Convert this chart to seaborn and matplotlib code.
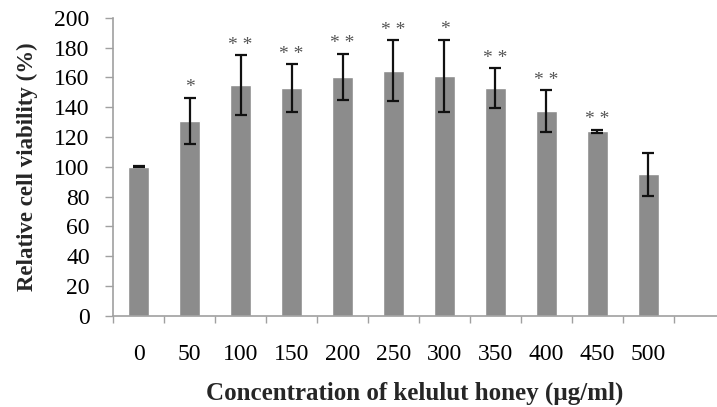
import matplotlib
matplotlib.use("Agg")
import matplotlib.pyplot as plt
import seaborn as sns
import pandas as pd
import numpy as np
from matplotlib.ticker import FixedLocator

# === Data ===
concentrations = ["0", "50", "100", "150", "200", "250", "300", "350", "400", "450", "500"]
viability = [100, 131, 155, 153, 160.5, 164.5, 161, 153, 137.5, 124, 95]
sd = [0.3, 15.5, 20, 16, 15.5, 20.5, 24.5, 13.5, 14, 1, 14.5]
stars = ["", "*", "* *", "* *", "* *", "* *", "*", "* *", "* *", "* *", ""]

df = pd.DataFrame({"conc": concentrations, "viability": viability, "sd": sd})

sns.set_theme(style="white")
plt.rcParams["font.family"] = ["Liberation Serif", "DejaVu Serif"]

fig = plt.figure(figsize=(7.17, 4.07), dpi=100)
ax = fig.add_axes([0.158, 0.224, 0.842, 0.732])

sns.barplot(data=df, x="conc", y="viability", color="#8c8c8c", saturation=1,
            width=0.42, errorbar=None, ax=ax)
ax.errorbar(np.arange(len(df)), df["viability"], yerr=df["sd"], fmt="none",
            ecolor="#111111", elinewidth=1.6, capsize=4.5, capthick=1.6)

for i, (v, e, s) in enumerate(zip(viability, sd, stars)):
    if s:
        ax.text(i, v + e + 0.8, s, ha="center", va="bottom", fontsize=14,
                color="#555555")

# === Axes styling ===
ax.set_ylim(0, 200)
ax.set_yticks(range(0, 201, 20))
ax.set_xlim(-0.5, 11.35)
ax.xaxis.set_minor_locator(FixedLocator(np.arange(-0.5, 11.0, 1.0)))
ax.tick_params(axis="x", which="major", length=0, pad=20, labelsize=17, colors="black")
ax.tick_params(axis="x", which="minor", length=5, width=1, color="#a0a0a0", direction="out", bottom=True)
ax.tick_params(axis="y", length=6, width=1, color="#a0a0a0", direction="out", left=True,
               labelsize=17, labelcolor="black", pad=11)

for side in ["top", "right"]:
    ax.spines[side].set_visible(False)
for side in ["left", "bottom"]:
    ax.spines[side].set_color("#a0a0a0")
    ax.spines[side].set_linewidth(1.2)

ax.set_xlabel("Concentration of kelulut honey (µg/ml)", fontsize=18, fontweight="bold", labelpad=12)
ax.set_ylabel("Relative cell viability (%)", fontsize=16.5, fontweight="bold", labelpad=12)

fig.savefig("out.png", dpi=100)
plt.close(fig)
